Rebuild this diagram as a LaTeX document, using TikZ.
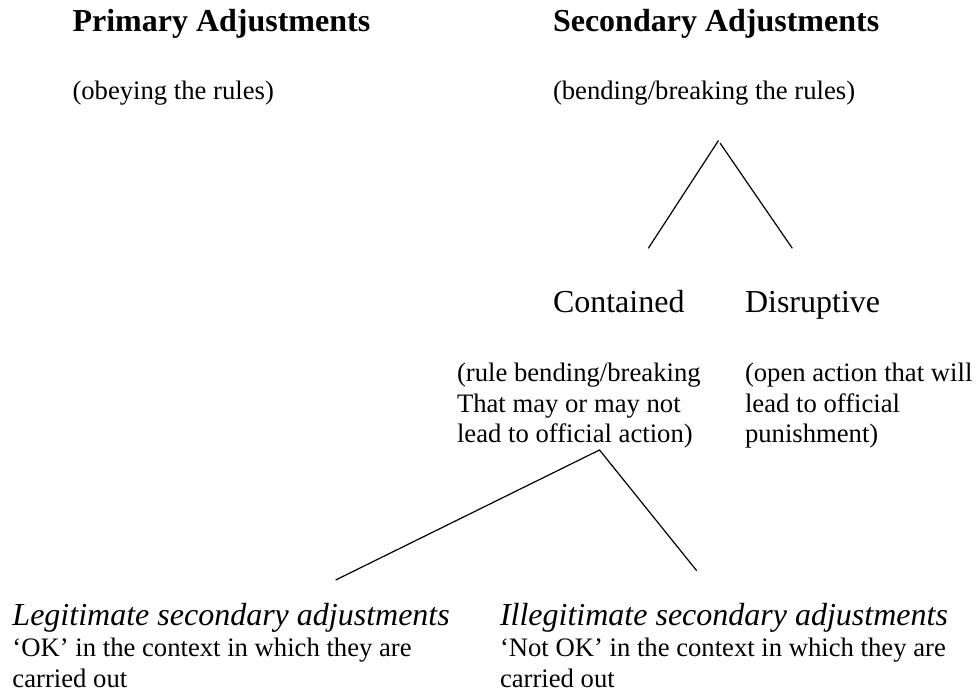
\documentclass[tikz,border=0pt]{standalone}
\usepackage{fontspec}
\setmainfont{Liberation Serif}
\begin{document}
\begin{tikzpicture}[x=1pt,y=-1pt,
  txt/.style={anchor=base west,inner sep=0pt,outer sep=0pt},
  big/.style={txt,font=\fontsize{32}{36}\selectfont},
  bigb/.style={txt,font=\fontsize{32}{36}\selectfont\bfseries},
  bigi/.style={txt,font=\fontsize{32}{36}\selectfont\itshape},
  small/.style={txt,font=\fontsize{26.67}{31}\selectfont},
  branch/.style={line width=1.2pt,line cap=butt}]
\useasboundingbox (0,0) rectangle (978,695);
\fill[white] (0,0) rectangle (978,695);
% headings
\node[bigb] (prim) at (72.5,32) {Primary Adjustments};
\node[small] (primsub) at (72.5,99.5) {(obeying the rules)};
\node[bigb] (sec) at (553,32) {Secondary Adjustments};
\node[small] (secsub) at (553,99.5) {(bending/breaking the rules)};
% second level
\node[big] (cont) at (553,312.5) {Contained};
\node[big] (disr) at (745,312.5) {Disruptive};
\node[small] (c1) at (457,381.5) {(rule bending/breaking};
\node[small] (c2) at (457,412) {That may or may not};
\node[small] (c3) at (457,442.5) {lead to official action)};
\node[small] (d1) at (745,381.5) {(open action that will};
\node[small] (d2) at (745,412) {lead to official};
\node[small] (d3) at (745,442.5) {punishment)};
% third level
\node[bigi] (legit) at (12.5,625.5) {Legitimate secondary adjustments};
\node[small] (l1) at (12.5,656.5) {`OK' in the context in which they are};
\node[small] (l2) at (12.5,687) {carried out};
\node[bigi] (illeg) at (500,625.5) {Illegitimate secondary adjustments};
\node[small] (i1) at (500,656.5) {`Not OK' in the context in which they are};
\node[small] (i2) at (500,687) {carried out};
% connectors
\coordinate (apexA) at (718.5,140.5);
\coordinate (apexB) at (720,143);
\coordinate (contTop) at (648.3,248.3);
\coordinate (disrTop) at (792.3,248.3);
\coordinate (apexC) at (599.5,450);
\coordinate (legitTop) at (335.7,580);
\coordinate (illegTop) at (696.7,570.7);
\draw[branch] (apexA) -- (contTop);
\draw[branch] (apexB) -- (disrTop);
\draw[branch] (legitTop) -- (apexC) -- (illegTop);
\end{tikzpicture}
\end{document}
